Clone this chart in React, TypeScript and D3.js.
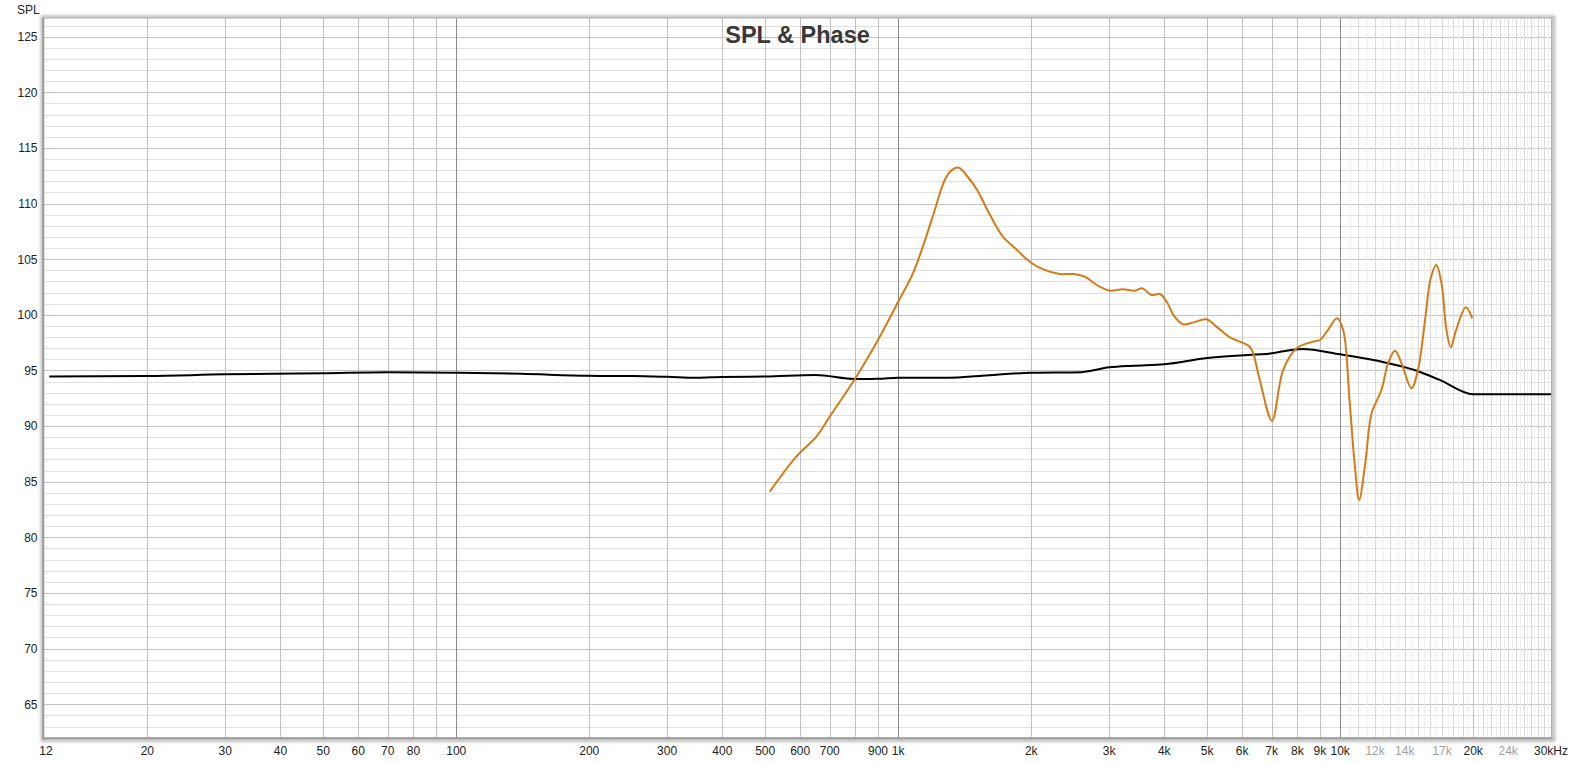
import React from "react";
import * as d3 from "d3";

// Black trace (SPL) — frequency (Hz) and level (dB)
const blackFreq = [12, 20, 30, 50, 70, 100, 140, 200, 250, 300, 350, 400, 500, 650, 800, 900, 1000, 1300, 1550, 2000, 2600, 3000, 3400, 4000, 5000, 6200, 6800, 8200, 10000, 12700, 14900, 16800, 20000, 30000];
const blackSpl = [94.45, 94.5, 94.65, 94.75, 94.85, 94.8, 94.7, 94.52, 94.5, 94.43, 94.35, 94.42, 94.45, 94.6, 94.24, 94.25, 94.35, 94.35, 94.53, 94.8, 94.85, 95.28, 95.43, 95.56, 96.12, 96.4, 96.48, 96.93, 96.45, 95.7, 94.98, 94.15, 92.86, 92.86];

// Orange trace
const orangeFreq = [512, 588, 653, 700, 800, 900, 1000, 1080, 1137, 1210, 1265, 1310, 1370, 1430, 1510, 1600, 1720, 1850, 1980, 2130, 2320, 2490, 2640, 2840, 3010, 3220, 3430, 3570, 3740, 3910, 4050, 4220, 4410, 4640, 4980, 5250, 5630, 5930, 6240, 6350, 6580, 7010, 7430, 7970, 8690, 9000, 9390, 9840, 10160, 10500, 10800, 11040, 11400, 11780, 12400, 12840, 13300, 13770, 14500, 15000, 15600, 16000, 16500, 16960, 17400, 17800, 18300, 19250, 19900];
const orangeSpl = [84.1, 87.25, 89.05, 90.85, 94.3, 97.74, 101.18, 103.73, 106.13, 109.42, 111.82, 112.87, 113.23, 112.5, 111.2, 109.25, 107.1, 105.9, 104.8, 104.09, 103.67, 103.67, 103.43, 102.59, 102.17, 102.29, 102.17, 102.38, 101.78, 101.87, 101.18, 99.83, 99.15, 99.3, 99.6, 98.94, 97.98, 97.59, 97.14, 96.6, 94.15, 90.49, 95.04, 97.0, 97.59, 97.74, 98.64, 99.69, 98.64, 92.35, 86.35, 83.36, 86.66, 91.15, 93.25, 95.65, 96.78, 95.65, 93.4, 95.04, 99.83, 103.13, 104.48, 102.83, 98.64, 97.08, 98.64, 100.68, 99.69];

// Axis ticks
const xTickValues = [12, 20, 30, 40, 50, 60, 70, 80, 100, 200, 300, 400, 500, 600, 700, 900, 1000, 2000, 3000, 4000, 5000, 6000, 7000, 8000, 9000, 10000, 12000, 14000, 17000, 20000, 24000, 30000];
const xTickLabels = ["12", "20", "30", "40", "50", "60", "70", "80", "100", "200", "300", "400", "500", "600", "700", "900", "1k", "2k", "3k", "4k", "5k", "6k", "7k", "8k", "9k", "10k", "12k", "14k", "17k", "20k", "24k", "30kHz"];
const greyLabels = ["12k", "14k", "17k", "24k"];
const yTickValues = [65, 70, 75, 80, 85, 90, 95, 100, 105, 110, 115, 120, 125];

const majorV = [100, 1000, 10000];
const stdV = [20, 30, 40, 50, 60, 70, 80, 90, 200, 300, 400, 500, 600, 700, 800, 900, 2000, 3000, 4000, 5000, 6000, 7000, 8000, 9000, 20000];

export default function App() {
  const W = 1573, H = 763;
  const left = 43.3, right = 1551.7, top = 18, bottom = 738.3;
  const x = d3.scaleLog().domain([11.63, 30110]).range([left, right]);
  const y = d3.scaleLinear().domain([61.94, 126.68]).range([bottom, top]);

  const fineV: { f: number; c: string }[] = [];
  for (let f = 10500; f < 30000; f += 500) {
    if (f === 20000) continue;
    fineV.push({ f, c: f % 1000 === 0 ? "#d9d9d9" : "#efefef" });
  }
  const hLines = d3.range(62, 127);

  const orangeLine = d3
    .line<[number, number]>()
    .x((d) => x(d[0]))
    .y((d) => y(d[1]))
    .curve(d3.curveCatmullRom.alpha(0.5));
  const blackLine = d3
    .line<[number, number]>()
    .x((d) => x(d[0]))
    .y((d) => y(d[1]))
    .curve(d3.curveMonotoneX);

  const blackData = blackFreq.map((f, i) => [f, blackSpl[i]] as [number, number]);
  const orangeData = orangeFreq.map((f, i) => [f, orangeSpl[i]] as [number, number]);

  const font = "'Liberation Sans', Arial, sans-serif";

  return (
    <svg
      width={W}
      height={H}
      style={{ position: "absolute", left: 0, top: 0, display: "block", background: "#fff" }}
      fontFamily={font}
    >
      <defs>
        <filter id="shadow" x="-5%" y="-5%" width="110%" height="110%">
          <feGaussianBlur stdDeviation="1.5" />
        </filter>
        <clipPath id="plotClip">
          <rect x={left} y={top} width={right - left} height={bottom - top} />
        </clipPath>
      </defs>
      {/* frame shadow */}
      <rect x={left - 1} y={top - 1} width={right - left + 3} height={bottom - top + 3} fill="none" stroke="#b5b5b5" strokeWidth={3} filter="url(#shadow)" />
      <rect x={left} y={top} width={right - left} height={bottom - top} fill="#fff" />
      <g clipPath="url(#plotClip)">
        {hLines.map((v) => (
          <line key={"h" + v} x1={left} x2={right} y1={Math.round(y(v)) + 0.5} y2={Math.round(y(v)) + 0.5} stroke={v % 5 === 0 ? "#c3c3c3" : "#e0e0e0"} strokeWidth={1} />
        ))}
        {fineV.map((d) => (
          <line key={"f" + d.f} x1={Math.round(x(d.f)) + 0.5} x2={Math.round(x(d.f)) + 0.5} y1={top} y2={bottom} stroke={d.c} strokeWidth={1} />
        ))}
        {stdV.map((f) => (
          <line key={"s" + f} x1={Math.round(x(f)) + 0.5} x2={Math.round(x(f)) + 0.5} y1={top} y2={bottom} stroke="#c0c0c0" strokeWidth={1} />
        ))}
        {majorV.map((f) => (
          <line key={"m" + f} x1={Math.round(x(f)) + 0.5} x2={Math.round(x(f)) + 0.5} y1={top} y2={bottom} stroke="#8a8a8a" strokeWidth={1} />
        ))}
        <path d={blackLine(blackData) || ""} fill="none" stroke="#000" strokeWidth={2} />
        <path d={orangeLine(orangeData) || ""} fill="none" stroke="#d67a18" strokeWidth={2} />
      </g>
      {/* frame */}
      <line x1={left} x2={right} y1={top} y2={top} stroke="#a8a8a8" strokeWidth={1.2} />
      <line x1={right} x2={right} y1={top} y2={bottom} stroke="#a8a8a8" strokeWidth={1.2} />
      <line x1={left} x2={left} y1={top} y2={bottom + 1} stroke="#999" strokeWidth={2} />
      <line x1={left} x2={right} y1={bottom} y2={bottom} stroke="#999" strokeWidth={2} />

      {/* title */}
      <text x={(left + right) / 2} y={42.5} textAnchor="middle" fontSize={23.5} fontWeight="bold" fill="#383838">
        SPL &amp; Phase
      </text>
      <text x={17} y={13.5} fontSize={12} fill="#222">SPL</text>

      {yTickValues.map((v) => (
        <text key={"yt" + v} x={37.5} y={y(v) + 4.3} textAnchor="end" fontSize={12} fill="#222">
          {v}
        </text>
      ))}
      {xTickValues.map((f, i) => {
        const label = xTickLabels[i];
        const first = i === 0;
        return (
          <text
            key={"xt" + f}
            x={first ? left - 4 : x(f)}
            y={755}
            textAnchor={first ? "start" : "middle"}
            fontSize={12}
            fill={greyLabels.includes(label) ? "#a0a0a0" : "#222"}
          >
            {label}
          </text>
        );
      })}
    </svg>
  );
}
